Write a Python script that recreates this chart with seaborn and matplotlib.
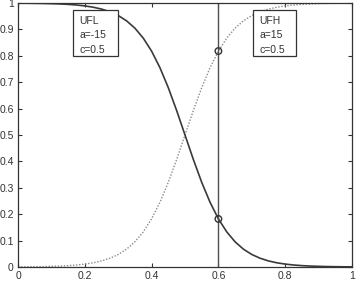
import matplotlib
matplotlib.use("Agg")
import matplotlib.pyplot as plt
from matplotlib.patches import Rectangle
import seaborn as sns
import pandas as pd

x_vals = [0.0, 0.025, 0.05, 0.075, 0.1, 0.125, 0.15, 0.175, 0.2, 0.225, 0.25, 0.275,
          0.3, 0.325, 0.35, 0.375, 0.4, 0.425, 0.45, 0.475, 0.5, 0.525, 0.55, 0.575,
          0.6, 0.625, 0.65, 0.675, 0.7, 0.725, 0.75, 0.775, 0.8, 0.825, 0.85, 0.875,
          0.9, 0.925, 0.95, 0.975, 1.0]
ufl_vals = [0.9994, 0.9992, 0.9988, 0.9983, 0.9975, 0.9964, 0.9948, 0.9924, 0.9890,
            0.9841, 0.9770, 0.9669, 0.9526, 0.9325, 0.9047, 0.8670, 0.8176, 0.7549,
            0.6792, 0.5927, 0.5000, 0.4073, 0.3208, 0.2451, 0.1824, 0.1330, 0.0953,
            0.0675, 0.0474, 0.0331, 0.0230, 0.0159, 0.0110, 0.0076, 0.0052, 0.0036,
            0.0025, 0.0017, 0.0012, 0.0008, 0.0006]
ufh_vals = [0.0006, 0.0008, 0.0012, 0.0017, 0.0025, 0.0036, 0.0052, 0.0076, 0.0110,
            0.0159, 0.0230, 0.0331, 0.0474, 0.0675, 0.0953, 0.1330, 0.1824, 0.2451,
            0.3208, 0.4073, 0.5000, 0.5927, 0.6792, 0.7549, 0.8176, 0.8670, 0.9047,
            0.9325, 0.9526, 0.9669, 0.9770, 0.9841, 0.9890, 0.9924, 0.9948, 0.9964,
            0.9975, 0.9983, 0.9988, 0.9992, 0.9994]
cut_x = 0.6
marker_y = [0.818, 0.182]
x_ticks = [0, 0.2, 0.4, 0.6, 0.8, 1]
x_labels = ["0", "0.2", "0.4", "0.6", "0.8", "1"]
y_ticks = [0, 0.1, 0.2, 0.3, 0.4, 0.5, 0.6, 0.7, 0.8, 0.9, 1]
y_labels = ["0", "0.1", "0.2", "0.3", "0.4", "0.5", "0.6", "0.7", "0.8", "0.9", "1"]
ufl_lines = ["UFL", "a=-15", "c=0.5"]
ufh_lines = ["UFH", "a=15", "c=0.5"]

sns.set_style("ticks")
plt.rcParams["font.family"] = ["Liberation Sans", "DejaVu Sans"]

df = pd.DataFrame({"x": x_vals, "ufl": ufl_vals, "ufh": ufh_vals})

fig = plt.figure(figsize=(3.61, 2.92), dpi=100)
ax = fig.add_axes([18/361, 25/292, 334/361, 264/292])

sns.lineplot(data=df, x="x", y="ufh", ax=ax, color="#8a8a8a", linewidth=1.0,
             linestyle=(0, (1, 1.2)))
sns.lineplot(data=df, x="x", y="ufl", ax=ax, color="#3a3a3a", linewidth=1.2)
ax.axvline(cut_x, color="#505050", linewidth=1.0)
sns.scatterplot(x=[cut_x]*len(marker_y), y=marker_y, ax=ax, s=22, marker="o",
                facecolor="none", edgecolor="#333333", linewidth=1.0, zorder=5)

ax.set_xlim(0, 1)
ax.set_ylim(0, 1)
ax.set_xticks(x_ticks)
ax.set_xticklabels(x_labels)
ax.set_yticks(y_ticks)
ax.set_yticklabels(y_labels)
ax.set_xlabel("")
ax.set_ylabel("")
ax.tick_params(direction="in", top=True, right=True, length=3, width=0.8,
               labelsize=7.5, colors="#333333", pad=3)
for sp in ax.spines.values():
    sp.set_visible(True)
    sp.set_color("#333333")
    sp.set_linewidth(0.9)

line_y = [0.920, 0.866, 0.811]
for (bx0, bx1, tx, lines) in [(0.164, 0.300, 0.183, ufl_lines),
                              (0.704, 0.833, 0.722, ufh_lines)]:
    ax.add_patch(Rectangle((bx0, 0.799), bx1 - bx0, 0.973 - 0.799,
                           transform=ax.transAxes, facecolor="white",
                           edgecolor="#333333", linewidth=0.9, zorder=6))
    for ly, s in zip(line_y, lines):
        ax.text(tx, ly, s, fontsize=7.5, color="#333333", va="baseline", ha="left",
                transform=ax.transAxes, zorder=7)

fig.savefig("out.png", dpi=100)
